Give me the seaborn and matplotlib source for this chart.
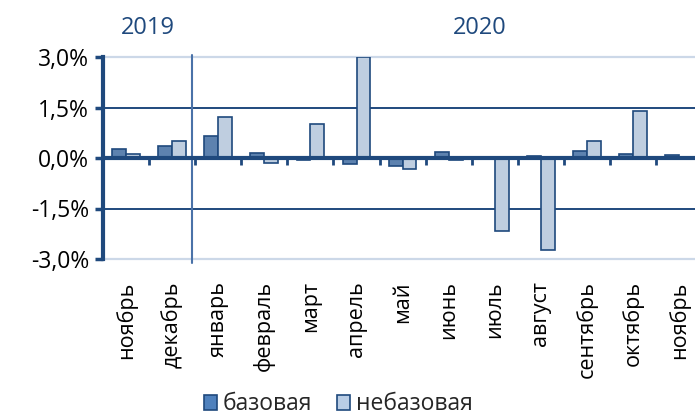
import matplotlib
matplotlib.use("Agg")
import matplotlib.pyplot as plt
from matplotlib.ticker import FuncFormatter
import seaborn as sns
import pandas as pd

# monthly values, %
periods = ['2019-11', '2019-12', '2020-01', '2020-02', '2020-03', '2020-04', '2020-05',
           '2020-06', '2020-07', '2020-08', '2020-09', '2020-10', '2020-11']
month_labels = ['ноябрь', 'декабрь', 'январь', 'февраль', 'март', 'апрель', 'май',
                'июнь', 'июль', 'август', 'сентябрь', 'октябрь', 'ноябрь']
base = [0.28, 0.37, 0.65, 0.15, -0.05, -0.19, -0.24, 0.17, 0.02, 0.06, 0.20, 0.12, 0.10]
nonbase = [0.12, 0.52, 1.22, -0.16, 1.02, 3.00, -0.32, -0.07, -2.18, -2.72, 0.52, 1.41, 0.0]
series_names = ['базовая', 'небазовая']
y_ticks = [-3.0, -1.5, 0.0, 1.5, 3.0]
years = ['2019', '2020']

DARK = '#1F497D'
colors = ['#4F81BD', '#B9CDE5']

df = pd.DataFrame({
    'period': periods * 2,
    'value': base + nonbase,
    'series': [series_names[0]] * len(base) + [series_names[1]] * len(nonbase),
})

sns.set_theme(style="white")
plt.rcParams['font.family'] = ['Open Sans', 'DejaVu Sans']

fig = plt.figure(figsize=(6.95, 4.17), dpi=100)
ax = fig.add_axes([0.148, 0.379, 0.852, 0.484])

sns.barplot(data=df, x='period', y='value', hue='series', order=periods,
            palette=colors, width=0.6, edgecolor=DARK, linewidth=1.2,
            ax=ax, legend=False, zorder=3)

# horizontal lines
for t in y_ticks:
    if t == 0:
        continue
    if abs(t) == max(y_ticks):
        ax.axhline(t, color='#CCD8E8', lw=1.6, zorder=1, clip_on=False)
    else:
        ax.axhline(t, color=DARK, lw=1.4, zorder=1)
ax.axhline(0, color=DARK, lw=3, zorder=4)

# small ticks between months, below the zero line
for k in range(len(periods) - 1):
    ax.plot([k + 0.5, k + 0.5], [0, -0.2], color=DARK, lw=2, zorder=4,
            solid_capstyle='butt')

# year separator
ax.axvline(1.43, ymin=-0.02, ymax=1.01, color='#4A72A8', lw=1.5, clip_on=False, zorder=2)

ax.set_ylim(y_ticks[0], y_ticks[-1])
ax.set_xlim(-0.5, 12.34)
ax.set_yticks(y_ticks)
ax.yaxis.set_major_formatter(FuncFormatter(lambda v, p: f"{v:.1f}%".replace('.', ',')))
ax.tick_params(axis='y', which='major', left=True, direction='out', length=6, width=2.5,
               color=DARK, labelsize=16.5, labelcolor='black', pad=4)
ax.set_xticks(range(len(periods)))
ax.set_xticklabels(month_labels, rotation=90, fontsize=15.5, color='black')
ax.tick_params(axis='x', bottom=False, pad=10)
ax.set_xlabel('')
ax.set_ylabel('')

for s in ['top', 'right', 'bottom']:
    ax.spines[s].set_visible(False)
ax.spines['left'].set_color(DARK)
ax.spines['left'].set_linewidth(3)

# year labels
fig.text(148 / 695, 1 - 28 / 417, years[0], color=DARK, fontsize=17, ha='center', va='center')
fig.text(480 / 695, 1 - 28 / 417, years[1], color=DARK, fontsize=17, ha='center', va='center')

handles = [plt.Rectangle((0, 0), 1, 1, facecolor=c, edgecolor=DARK, lw=1.2) for c in colors]
fig.legend(handles, series_names, loc='center', bbox_to_anchor=(0.487, 0.03), ncol=2,
           frameon=False, fontsize=16.5, handlelength=0.55, handleheight=0.65,
           handletextpad=0.25, columnspacing=1.1, borderaxespad=0)

fig.savefig('out.png', dpi=100)
